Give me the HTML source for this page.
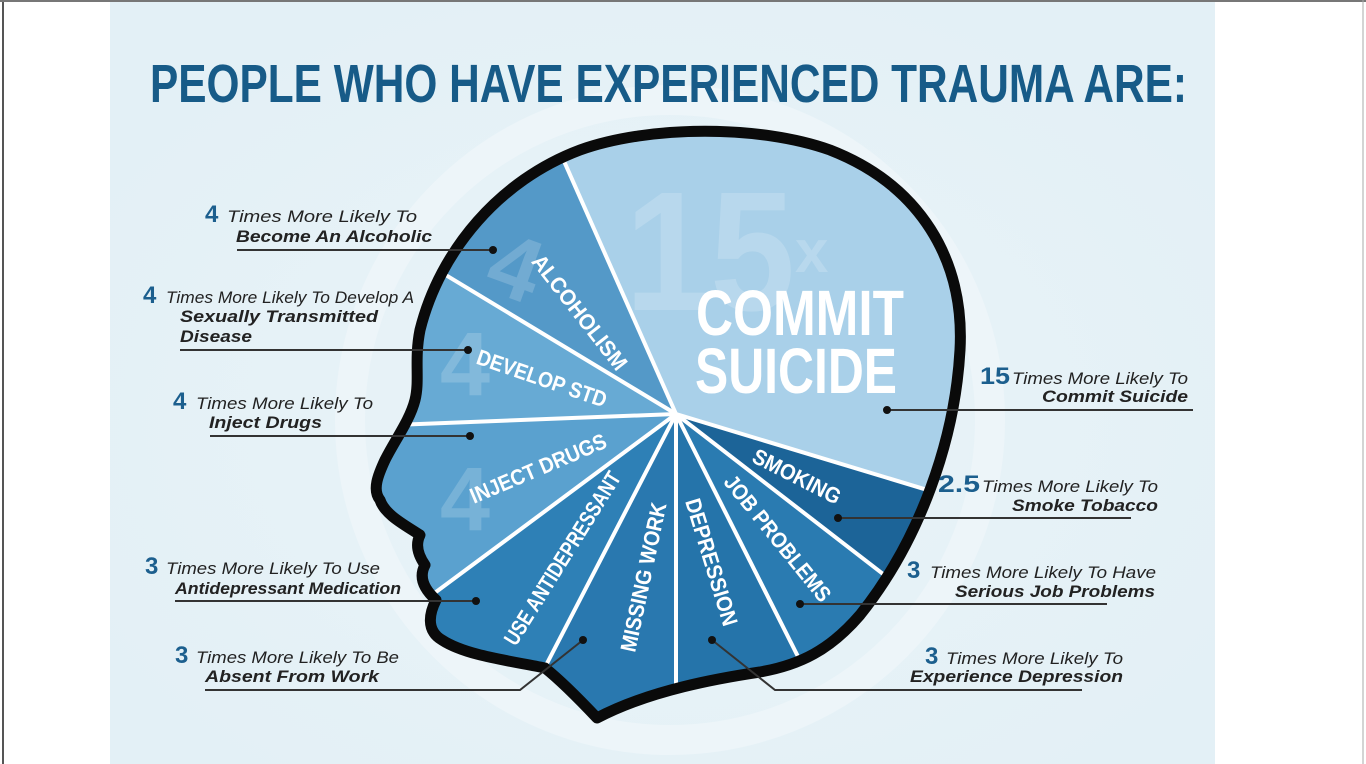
<!DOCTYPE html>
<html><head><meta charset="utf-8"><style>
html,body{margin:0;padding:0;background:#fff;width:1366px;height:764px;overflow:hidden;}
svg{display:block;}
</style></head><body>
<svg width="1366" height="764" viewBox="0 0 1366 764" xmlns="http://www.w3.org/2000/svg">
<defs>
<clipPath id="hc"><path id="headp" d="M597,718 C580,700 560,680 545,668 C505,660 465,655 442,640 C425,630 430,612 436,600 C425,590 418,578 425,565 C418,555 415,545 420,535 C405,525 385,515 380,500 C372,490 378,475 385,460 C395,440 410,420 415,400 C420,380 414,360 420,330 C440,250 500,180 580,150 C650,125 760,125 830,150 C920,185 965,260 960,350 C955,440 920,540 860,615 C830,650 800,665 760,672 C720,678 650,690 597,718 Z"/></clipPath>
<radialGradient id="bg" cx="0.5" cy="0.55" r="0.6"><stop offset="0" stop-color="#eaf4f8"/><stop offset="1" stop-color="#e3f0f6"/></radialGradient>
</defs>
<rect x="0" y="0" width="1366" height="764" fill="#fff"/>
<rect x="110" y="0" width="1105" height="764" fill="url(#bg)"/>
<circle cx="670" cy="420" r="320" fill="none" stroke="#edf5f9" stroke-width="30"/>
<line x1="3" y1="0" x2="3" y2="764" stroke="#555" stroke-width="2"/>
<line x1="0" y1="1" x2="1366" y2="1" stroke="#777" stroke-width="2"/>
<line x1="1363" y1="0" x2="1363" y2="764" stroke="#aaa" stroke-width="1"/>

<text x="150" y="102" textLength="1037" lengthAdjust="spacingAndGlyphs" font-family="Liberation Sans, sans-serif" font-weight="bold" font-size="54" fill="#175b88">PEOPLE WHO HAVE EXPERIENCED TRAUMA ARE:</text>

<g clip-path="url(#hc)">
<polygon points="676,414 1020,518 1020,30 509,30 509,37" fill="#a9d0e9"/>
<polygon points="676,414 509,37 338,37 338,210" fill="#5499c8"/>
<polygon points="676,414 338,210 290,210 290,429" fill="#67aad4"/>
<polygon points="676,414 290,429 290,678 320,678" fill="#5aa1cf"/>
<polygon points="676,414 320,678 320,760 497,760" fill="#2e80b6"/>
<polygon points="676,414 497,760 676,760" fill="#2978af"/>
<polygon points="676,414 676,760 850,760" fill="#2574aa"/>
<polygon points="676,414 850,760 949,760 949,625" fill="#2a7bb1"/>
<polygon points="676,414 949,625 1020,625 1020,518" fill="#1c6498"/>
<g stroke="#fff" stroke-width="4">
<line x1="676" y1="414" x2="509" y2="37"/>
<line x1="676" y1="414" x2="338" y2="210"/>
<line x1="676" y1="414" x2="290" y2="429"/>
<line x1="676" y1="414" x2="320" y2="678"/>
<line x1="676" y1="414" x2="497" y2="760"/>
<line x1="676" y1="414" x2="676" y2="760"/>
<line x1="676" y1="414" x2="850" y2="760"/>
<line x1="676" y1="414" x2="949" y2="625"/>
<line x1="676" y1="414" x2="1020" y2="518"/>
</g>
<g font-family="Liberation Sans, sans-serif" font-weight="bold" fill="#fff" fill-opacity="0.18">
<text x="625" y="310" font-size="170" textLength="170" lengthAdjust="spacingAndGlyphs">15</text>
<text x="795" y="272" font-size="60">x</text>
<text x="490" y="300" font-size="90" transform="rotate(20 520 270)">4</text>
<text x="440" y="395" font-size="90">4</text>
<text x="440" y="530" font-size="90">4</text>
</g>
</g>

<g font-family="Liberation Sans, sans-serif" font-weight="bold" fill="#fff">
<text x="800" y="335" text-anchor="middle" font-size="64" textLength="208" lengthAdjust="spacingAndGlyphs">COMMIT</text>
<text x="796" y="393" text-anchor="middle" font-size="64" textLength="202" lengthAdjust="spacingAndGlyphs">SUICIDE</text>
<g font-size="22" text-anchor="middle">
<text x="0" y="8" transform="translate(580,312) rotate(52)" textLength="140" lengthAdjust="spacingAndGlyphs">ALCOHOLISM</text>
<text x="0" y="8" transform="translate(542,378) rotate(19)" textLength="136" lengthAdjust="spacingAndGlyphs">DEVELOP STD</text>
<text x="0" y="8" transform="translate(538,468) rotate(-23)" textLength="146" lengthAdjust="spacingAndGlyphs">INJECT DRUGS</text>
<text x="0" y="8" transform="translate(562,558) rotate(-58)" textLength="200" lengthAdjust="spacingAndGlyphs">USE ANTIDEPRESSANT</text>
<text x="0" y="8" transform="translate(643,577) rotate(-78)" textLength="152" lengthAdjust="spacingAndGlyphs">MISSING WORK</text>
<text x="0" y="8" transform="translate(712,562) rotate(73)" textLength="132" lengthAdjust="spacingAndGlyphs">DEPRESSION</text>
<text x="0" y="8" transform="translate(778,538) rotate(51)" textLength="156" lengthAdjust="spacingAndGlyphs">JOB PROBLEMS</text>
<text x="0" y="8" transform="translate(797,476) rotate(27)" textLength="96" lengthAdjust="spacingAndGlyphs">SMOKING</text>
</g>
</g>

<use href="#headp" fill="none" stroke="#0a0a0a" stroke-width="11" stroke-linejoin="round"/>

<g stroke="#333" stroke-width="2" fill="none">
<line x1="237" y1="250" x2="493" y2="250"/>
<line x1="180" y1="350" x2="468" y2="350"/>
<line x1="210" y1="436" x2="470" y2="436"/>
<line x1="175" y1="601" x2="476" y2="601"/>
<polyline points="205,690 520,690 583,640"/>
<line x1="887" y1="410" x2="1193" y2="410"/>
<line x1="838" y1="518" x2="1131" y2="518"/>
<line x1="800" y1="604" x2="1107" y2="604"/>
<polyline points="712,640 775,690 1082,690"/>
</g>
<g fill="#111">
<circle cx="493" cy="250" r="4"/><circle cx="468" cy="350" r="4"/><circle cx="470" cy="436" r="4"/>
<circle cx="476" cy="601" r="4"/><circle cx="583" cy="640" r="4"/><circle cx="887" cy="410" r="4"/>
<circle cx="838" cy="518" r="4"/><circle cx="800" cy="604" r="4"/><circle cx="712" cy="640" r="4"/>
</g>

<g font-family="Liberation Sans, sans-serif" font-style="italic" fill="#222" font-size="17">
<g fill="#1c5f8e" font-weight="bold" font-size="24" font-style="normal">
<text x="205" y="222">4</text><text x="143" y="303">4</text><text x="173" y="409">4</text>
<text x="145" y="574">3</text><text x="175" y="663">3</text>
<text x="980" y="384" textLength="30" lengthAdjust="spacingAndGlyphs">15</text>
<text x="938" y="492" textLength="42" lengthAdjust="spacingAndGlyphs">2.5</text>
<text x="907" y="578">3</text><text x="925" y="664">3</text>
</g>
<text x="227" y="222" textLength="190" lengthAdjust="spacingAndGlyphs">Times More Likely To</text>
<text x="236" y="242" textLength="196" lengthAdjust="spacingAndGlyphs" font-weight="bold">Become An Alcoholic</text>
<text x="166" y="303" textLength="248" lengthAdjust="spacingAndGlyphs">Times More Likely To Develop A</text>
<text x="180" y="322" textLength="198" lengthAdjust="spacingAndGlyphs" font-weight="bold">Sexually Transmitted</text>
<text x="180" y="342" textLength="72" lengthAdjust="spacingAndGlyphs" font-weight="bold">Disease</text>
<text x="196" y="409" textLength="177" lengthAdjust="spacingAndGlyphs">Times More Likely To</text>
<text x="209" y="428" textLength="113" lengthAdjust="spacingAndGlyphs" font-weight="bold">Inject Drugs</text>
<text x="166" y="574" textLength="214" lengthAdjust="spacingAndGlyphs">Times More Likely To Use</text>
<text x="175" y="594" textLength="226" lengthAdjust="spacingAndGlyphs" font-weight="bold">Antidepressant Medication</text>
<text x="196" y="663" textLength="203" lengthAdjust="spacingAndGlyphs">Times More Likely To Be</text>
<text x="205" y="682" textLength="174" lengthAdjust="spacingAndGlyphs" font-weight="bold">Absent From Work</text>
<text x="1012" y="384" textLength="176" lengthAdjust="spacingAndGlyphs">Times More Likely To</text>
<text x="1042" y="402" textLength="146" lengthAdjust="spacingAndGlyphs" font-weight="bold">Commit Suicide</text>
<text x="982" y="492" textLength="176" lengthAdjust="spacingAndGlyphs">Times More Likely To</text>
<text x="1012" y="511" textLength="146" lengthAdjust="spacingAndGlyphs" font-weight="bold">Smoke Tobacco</text>
<text x="930" y="578" textLength="226" lengthAdjust="spacingAndGlyphs">Times More Likely To Have</text>
<text x="955" y="597" textLength="200" lengthAdjust="spacingAndGlyphs" font-weight="bold">Serious Job Problems</text>
<text x="946" y="664" textLength="177" lengthAdjust="spacingAndGlyphs">Times More Likely To</text>
<text x="910" y="682" textLength="213" lengthAdjust="spacingAndGlyphs" font-weight="bold">Experience Depression</text>
</g>
</svg>
</body></html>
